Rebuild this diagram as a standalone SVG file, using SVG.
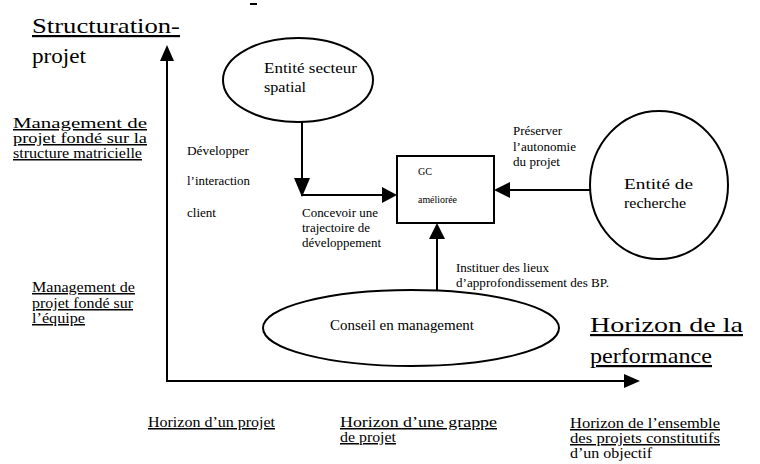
<svg xmlns="http://www.w3.org/2000/svg" width="760" height="464" viewBox="0 0 760 464" font-family="'Liberation Serif', 'Times New Roman', serif">
<style>
text{font-family:"Liberation Serif","Times New Roman",serif;fill:#000}
.u{text-decoration:underline}
.big{font-size:22px}
.m{font-size:15px}
.s{font-size:12px}
.xs{font-size:9.5px}
.ln{stroke:#000;stroke-width:2;fill:none}
.sh{stroke:#000;stroke-width:2;fill:#fff}
.ah{fill:#000;stroke:none}
</style>
<rect width="760" height="464" fill="#fff"/>
<rect x="250" y="3" width="7" height="2" fill="#000"/>
<g id="axis-labels">
<text class="big u" x="32" y="33" textLength="148" lengthAdjust="spacingAndGlyphs">Structuration-</text>
<text class="big" x="32" y="63" textLength="54" lengthAdjust="spacingAndGlyphs">projet</text>
<text class="big u" x="590" y="332" textLength="153" lengthAdjust="spacingAndGlyphs">Horizon de la</text>
<text class="big u" x="590" y="363" textLength="122" lengthAdjust="spacingAndGlyphs">performance</text>
</g>
<g id="y-labels">
<text class="m u" x="13" y="128" textLength="134" lengthAdjust="spacingAndGlyphs">Management de</text>
<text class="m u" x="13" y="143" textLength="134" lengthAdjust="spacingAndGlyphs">projet fondé sur la</text>
<text class="m u" x="13" y="158" textLength="129" lengthAdjust="spacingAndGlyphs">structure matricielle</text>
<text class="m u" x="32" y="292" textLength="103" lengthAdjust="spacingAndGlyphs">Management de</text>
<text class="m u" x="32" y="308" textLength="101" lengthAdjust="spacingAndGlyphs">projet fondé sur</text>
<text class="m u" x="32" y="323" textLength="53" lengthAdjust="spacingAndGlyphs">l’équipe</text>
</g>
<g id="x-labels">
<text class="m u" x="148" y="427" textLength="127" lengthAdjust="spacingAndGlyphs">Horizon d’un projet</text>
<text class="m u" x="340" y="427" textLength="157" lengthAdjust="spacingAndGlyphs">Horizon d’une grappe</text>
<text class="m u" x="340" y="442" textLength="56" lengthAdjust="spacingAndGlyphs">de projet</text>
<text class="m u" x="570" y="428" textLength="150" lengthAdjust="spacingAndGlyphs">Horizon de l’ensemble</text>
<text class="m u" x="570" y="443" textLength="150" lengthAdjust="spacingAndGlyphs">des projets constitutifs</text>
<text class="m" x="570" y="458" textLength="82" lengthAdjust="spacingAndGlyphs">d’un objectif</text>
</g>
<g id="axes">
<line class="ln" x1="167" y1="58" x2="167" y2="381"/>
<line class="ln" x1="166" y1="381" x2="627" y2="381"/>
<polygon class="ah" points="167,45 160,61 174,61"/>
<polygon class="ah" points="640,381 624,374 624,388"/>
</g>
<g id="connector-labels">
<text class="s" x="187" y="155" textLength="62" lengthAdjust="spacingAndGlyphs">Développer</text>
<text class="s" x="187" y="185" textLength="63" lengthAdjust="spacingAndGlyphs">l’interaction</text>
<text class="s" x="187" y="217" textLength="29" lengthAdjust="spacingAndGlyphs">client</text>
<text class="s" x="302" y="217" textLength="76" lengthAdjust="spacingAndGlyphs">Concevoir une</text>
<text class="s" x="302" y="232" textLength="68" lengthAdjust="spacingAndGlyphs">trajectoire de</text>
<text class="s" x="302" y="247" textLength="79" lengthAdjust="spacingAndGlyphs">développement</text>
<text class="s" x="513" y="135" textLength="49" lengthAdjust="spacingAndGlyphs">Préserver</text>
<text class="s" x="513" y="151" textLength="63" lengthAdjust="spacingAndGlyphs">l’autonomie</text>
<text class="s" x="513" y="166" textLength="47" lengthAdjust="spacingAndGlyphs">du projet</text>
<text class="s" x="456" y="272" textLength="93" lengthAdjust="spacingAndGlyphs">Instituer des lieux</text>
<text class="s" x="456" y="287" textLength="153" lengthAdjust="spacingAndGlyphs">d’approfondissement des BP.</text>
</g>
<g id="connectors">
<polyline class="ln" points="302,122 302,195 384,195"/>
<polygon class="ah" points="302,197 294,178 310,178"/>
<polygon class="ah" points="397,195 382,187 382,203"/>
<line class="ln" x1="590" y1="190" x2="508" y2="190"/>
<polygon class="ah" points="494,190 510,182 510,198"/>
<line class="ln" x1="437" y1="290" x2="437" y2="236"/>
<polygon class="ah" points="437,223 429,239 445,239"/>
</g>
<g id="node-spatial">
<ellipse class="sh" cx="298" cy="80" rx="75" ry="42"/>
<text class="m" x="264" y="73" textLength="93" lengthAdjust="spacingAndGlyphs">Entité secteur</text>
<text class="m" x="264" y="92" textLength="42" lengthAdjust="spacingAndGlyphs">spatial</text>
</g>
<g id="node-gc">
<rect class="sh" x="397" y="156" width="97" height="67"/>
<text class="xs" x="418" y="175" textLength="14" lengthAdjust="spacingAndGlyphs">GC</text>
<text class="xs" x="418" y="203" textLength="39" lengthAdjust="spacingAndGlyphs">améliorée</text>
</g>
<g id="node-recherche">
<ellipse class="sh" cx="659" cy="185" rx="69" ry="74"/>
<text class="m" x="624" y="189" textLength="69" lengthAdjust="spacingAndGlyphs">Entité de</text>
<text class="m" x="624" y="208" textLength="62" lengthAdjust="spacingAndGlyphs">recherche</text>
</g>
<g id="node-conseil">
<ellipse class="sh" cx="411" cy="328" rx="148" ry="38"/>
<text class="m" x="330" y="330" style="font-size:14px" textLength="144" lengthAdjust="spacingAndGlyphs">Conseil en management</text>
</g>
</svg>
